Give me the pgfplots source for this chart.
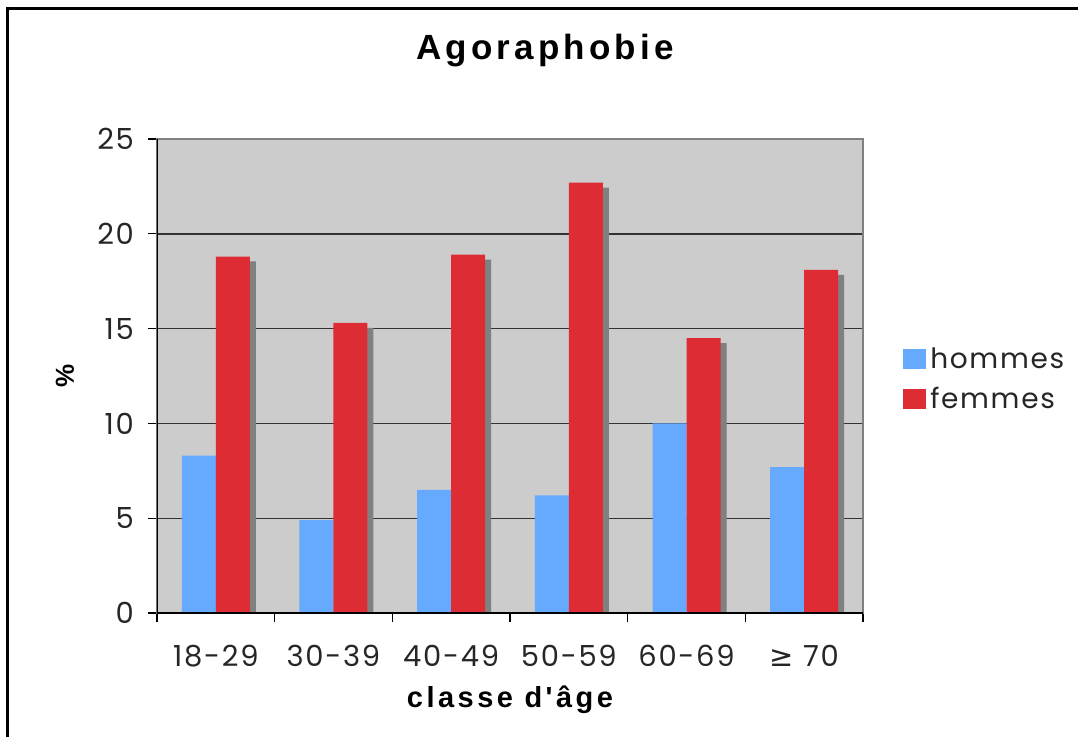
\documentclass[border=0pt]{standalone}
\usepackage{fontspec}
\usepackage{pgfplots}
\pgfplotsset{compat=1.18}
\setmainfont{Liberation Sans}
\newfontfamily\tickfont[LetterSpace=6]{Poppins}
\newfontfamily\titlefont[LetterSpace=12]{Liberation Sans}
\newfontfamily\symfont{DejaVu Sans}
\definecolor{hom}{HTML}{66AAFF}
\definecolor{fem}{HTML}{DD2C33}
\definecolor{bg}{HTML}{CCCCCC}
\definecolor{shadow}{HTML}{808080}
\begin{document}
\begin{tikzpicture}[x=1pt,y=1pt]
\path[use as bounding box] (-78.5,-61.5) rectangle (460.5,306.5);
\draw[line width=1.5pt] (-74.5,-70) -- (-74.5,302.5) -- (470,302.5);
\begin{axis}[
  at={(0,0)}, anchor=south west, scale only axis,
  width=353pt, height=237pt,
  xmin=-0.5, xmax=5.5, ymin=0, ymax=25,
  ybar, bar width=17pt,
  axis background/.style={fill=bg},
  axis line style={draw=shadow, line width=1pt},
  xtick={0,...,5},
  xticklabels={18-29,30-39,40-49,50-59,60-69,{{\symfont ≥} 70}},
  minor xtick={-0.5,0.5,...,5.5},
  ytick={0,5,...,25},
  ymajorgrids,
  grid style={black!80, line width=0.7pt},
  tick align=outside, xtick pos=bottom, ytick pos=left,
  major tick length=4.5pt, minor tick length=4.5pt,
  major x tick style={draw=none},
  minor x tick style={black, line width=0.6pt},
  y tick style={black, line width=0.6pt},
  /pgf/number format/assume math mode=true,
  tick label style={font=\tickfont\fontsize{14.5}{16}\selectfont, text=black!85},
  xticklabel style={anchor=center, yshift=-17pt},
  yticklabel style={xshift=-3.5pt},
  xlabel={classe d'âge},
  ylabel={\%},
  xlabel style={at={(axis description cs:0.5,-0.1772)}, anchor=center, font=\titlefont\bfseries\fontsize{14.5}{16}\selectfont, yshift=-1.5pt},
  ylabel style={at={(axis description cs:-0.1346,0.5)}, anchor=center, font=\bfseries\fontsize{13}{15}\selectfont, yshift=-1.5pt},
  legend style={at={(axis description cs:1.048,0.578)}, anchor=north west, draw=none, fill=none,
    font=\tickfont\fontsize{14}{16}\selectfont, row sep=4pt, text=black!85},
  legend image code/.code={\fill[#1] (-2.5pt,-5pt) rectangle (9pt,5pt);},
  legend cell align=left,
]
\addplot[fill=hom, draw=none, bar shift=-8.5pt] coordinates {(0,8.3) (1,4.9) (2,6.5) (3,6.2) (4,10.0) (5,7.7)};
\addplot[fill=shadow, draw=none, bar shift=11.5pt, forget plot] coordinates {(0,18.54) (1,15.04) (2,18.64) (3,22.44) (4,14.24) (5,17.84)};
\addplot[fill=fem, draw=none, bar shift=8.5pt] coordinates {(0,18.8) (1,15.3) (2,18.9) (3,22.7) (4,14.5) (5,18.1)};
\legend{hommes,femmes}
\draw[black, line width=0.7pt] (rel axis cs:0,1) -- (rel axis cs:0,0) -- (rel axis cs:1,0);
\end{axis}
\node[font=\titlefont\bfseries\fontsize{17.5}{20}\selectfont] at (194,281) {Agoraphobie};
\end{tikzpicture}
\end{document}
